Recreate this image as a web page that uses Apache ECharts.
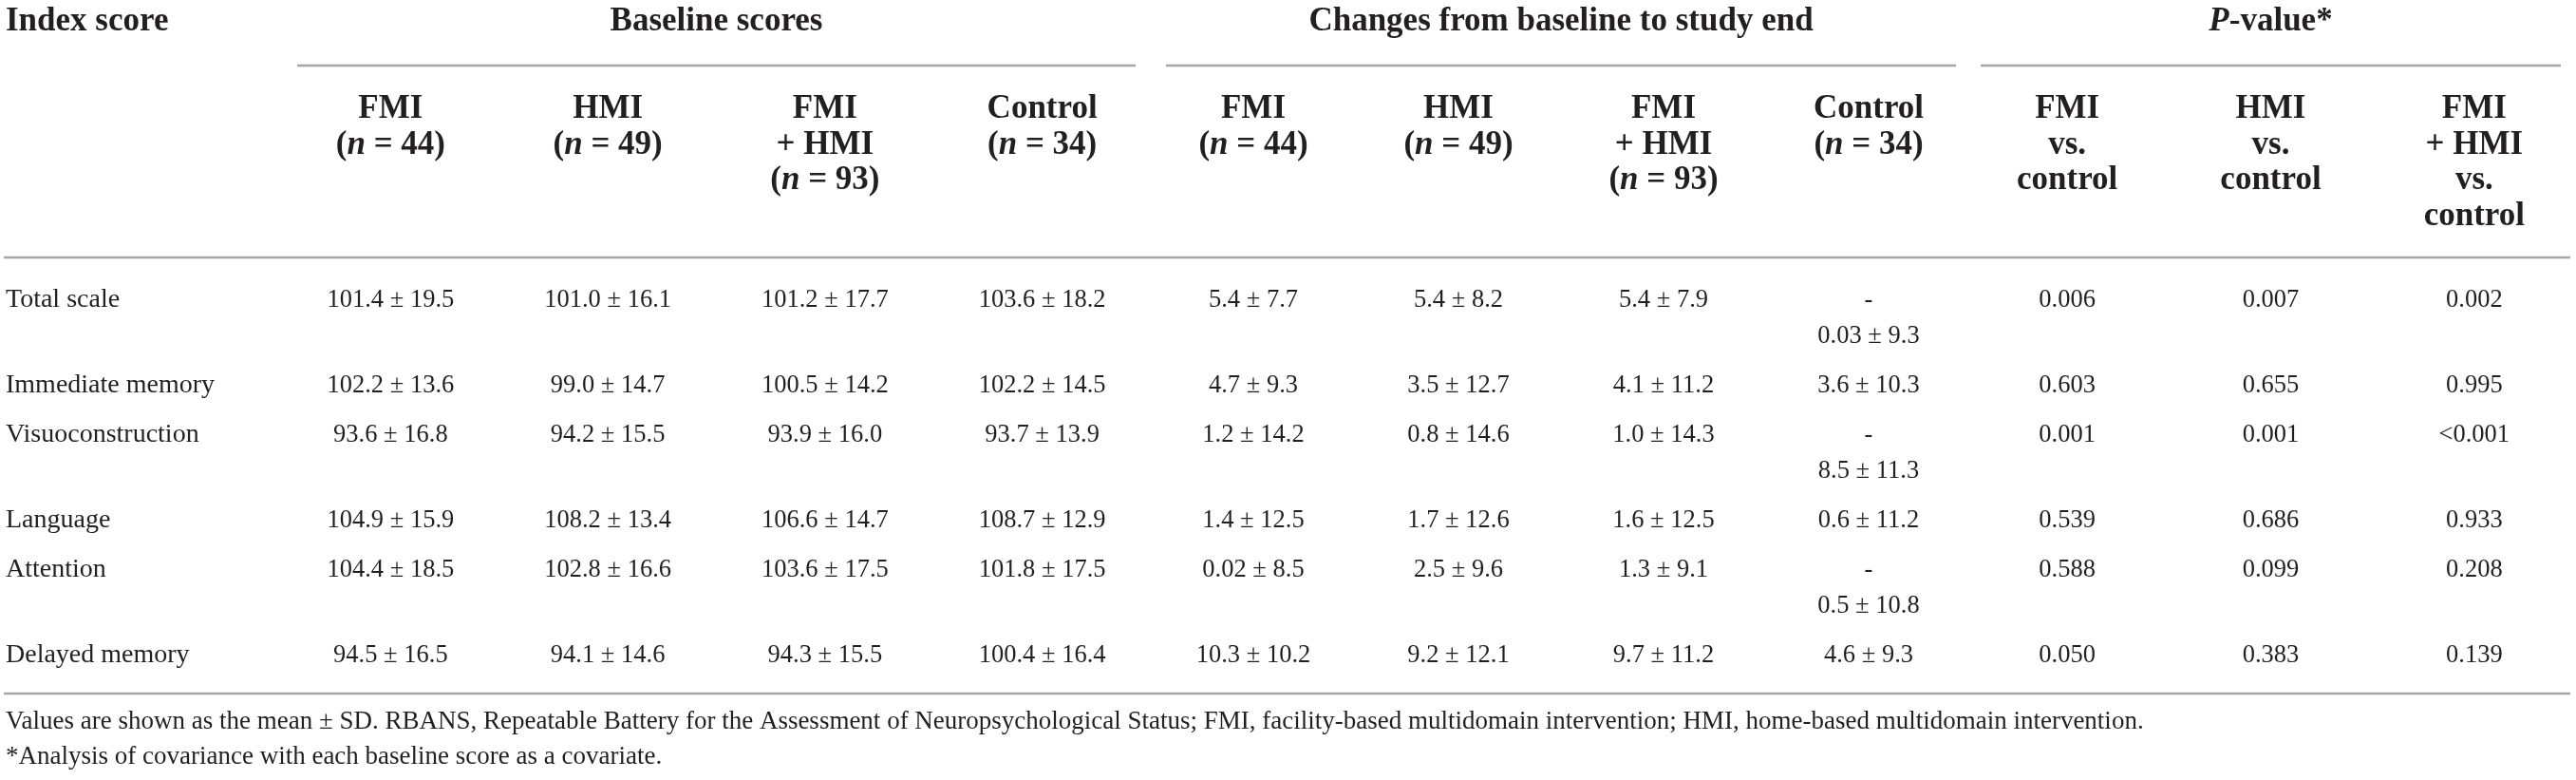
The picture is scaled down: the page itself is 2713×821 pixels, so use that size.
<!DOCTYPE html>
<html>
<head>
<meta charset="utf-8">
<script src="https://cdn.jsdelivr.net/npm/echarts@6/dist/echarts.min.js"></script>
<style>
  html, body { margin: 0; padding: 0; background: #fff; }
  #chart { width: 2713px; height: 821px; }
</style>
</head>
<body>
<div id="chart"></div>
<script>
// RBANS index scores table
const rowNames = ['Total scale', 'Immediate memory', 'Visuoconstruction', 'Language', 'Attention', 'Delayed memory'];
const groupTitles = ['Baseline scores', 'Changes from baseline to study end', 'P-value*'];
const armHeads = ['FMI\n(n = 44)', 'HMI\n(n = 49)', 'FMI\n+ HMI\n(n = 93)', 'Control\n(n = 34)'];
const pHeads = ['FMI\nvs.\ncontrol', 'HMI\nvs.\ncontrol', 'FMI\n+ HMI\nvs.\ncontrol'];

// baseline scores (mean ± SD)
const baseFMI = ['101.4 ± 19.5', '102.2 ± 13.6', '93.6 ± 16.8', '104.9 ± 15.9', '104.4 ± 18.5', '94.5 ± 16.5'];
const baseHMI = ['101.0 ± 16.1', '99.0 ± 14.7', '94.2 ± 15.5', '108.2 ± 13.4', '102.8 ± 16.6', '94.1 ± 14.6'];
const baseBoth = ['101.2 ± 17.7', '100.5 ± 14.2', '93.9 ± 16.0', '106.6 ± 14.7', '103.6 ± 17.5', '94.3 ± 15.5'];
const baseCtrl = ['103.6 ± 18.2', '102.2 ± 14.5', '93.7 ± 13.9', '108.7 ± 12.9', '101.8 ± 17.5', '100.4 ± 16.4'];

// changes from baseline to study end (mean ± SD)
const chgFMI = ['5.4 ± 7.7', '4.7 ± 9.3', '1.2 ± 14.2', '1.4 ± 12.5', '0.02 ± 8.5', '10.3 ± 10.2'];
const chgHMI = ['5.4 ± 8.2', '3.5 ± 12.7', '0.8 ± 14.6', '1.7 ± 12.6', '2.5 ± 9.6', '9.2 ± 12.1'];
const chgBoth = ['5.4 ± 7.9', '4.1 ± 11.2', '1.0 ± 14.3', '1.6 ± 12.5', '1.3 ± 9.1', '9.7 ± 11.2'];
const chgCtrl = ['-0.03 ± 9.3', '3.6 ± 10.3', '-8.5 ± 11.3', '0.6 ± 11.2', '-0.5 ± 10.8', '4.6 ± 9.3'];

// P-values
const pFMI = ['0.006', '0.603', '0.001', '0.539', '0.588', '0.050'];
const pHMI = ['0.007', '0.655', '0.001', '0.686', '0.099', '0.383'];
const pBoth = ['0.002', '0.995', '<0.001', '0.933', '0.208', '0.139'];

const footnotes = [
  'Values are shown as the mean ± SD. RBANS, Repeatable Battery for the Assessment of Neuropsychological Status; FMI, facility-based multidomain intervention; HMI, home-based multidomain intervention.',
  '*Analysis of covariance with each baseline score as a covariate.'
];

// layout / style
const FONT = '"Liberation Serif", "DejaVu Serif", serif';
const INK = '#231f20';
const RULE = '#a6a6a6';
const W = 2713, H = 821;
const HEAD_SIZE = 35, LABEL_SIZE = 28, NUM_SIZE = 26.5, NOTE_SIZE = 27;
const HEAD_LH = 37.7, BODY_LH = 38, ROW_GAP = 52;
const TITLE_Y = 23, GROUP_RULE_Y = 69, HEAD_Y = 115, HEAD_RULE_Y = 271;
const BODY_Y = 316, BOTTOM_RULE_Y = 730, NOTE_Y = [763, 800];

const groups = [
  { title: groupTitles[0], heads: armHeads, cols: [baseFMI, baseHMI, baseBoth, baseCtrl], left: 297, width: 915 },
  { title: groupTitles[1], heads: armHeads, cols: [chgFMI, chgHMI, chgBoth, chgCtrl], left: 1212, width: 864 },
  { title: groupTitles[2], heads: pHeads, cols: [pFMI, pHMI, pBoth], left: 2070, width: 675 }
];

// a leading minus wraps onto its own line, as in the printed table
function cellText(s) {
  return s.charAt(0) === '-' ? '-\n' + s.slice(1) : s;
}

const allCols = groups.reduce((a, g) => a.concat(g.cols), []);
const rowTops = [];
let yCursor = BODY_Y;
rowNames.forEach((_, r) => {
  rowTops.push(yCursor);
  const lines = Math.max.apply(null, allCols.map(c => cellText(c[r]).split('\n').length));
  yCursor += (lines - 1) * BODY_LH + ROW_GAP;
});

function headRich(s) {
  return s.replace('(n =', '({i|n} =').replace('P-', '{i|P}-');
}
const headStyle = {
  font: 'bold ' + HEAD_SIZE + 'px ' + FONT,
  fill: INK,
  lineHeight: HEAD_LH,
  rich: { i: { font: 'italic bold ' + HEAD_SIZE + 'px ' + FONT, fill: INK, lineHeight: HEAD_LH } }
};

const grids = [{ left: 0, top: 0, width: 290, height: H }];
const xAxes = [{ type: 'category', gridIndex: 0, data: ['Index score'], show: false }];
const yAxes = [{ type: 'value', gridIndex: 0, min: 0, max: H, inverse: true, show: false }];
const series = [];

// label column
series.push({
  type: 'custom',
  xAxisIndex: 0, yAxisIndex: 0,
  silent: true,
  data: [[0, TITLE_Y]].concat(rowTops.map(y => [0, y])),
  renderItem: function (params, api) {
    const p = api.coord([api.value(0), api.value(1)]);
    const band = api.size([1, 0])[0];
    const i = params.dataIndex;
    if (i === 0) {
      return { type: 'text', x: p[0] - band / 2 + 6, y: p[1],
        style: Object.assign({}, headStyle, { text: 'Index score', align: 'left', verticalAlign: 'middle' }) };
    }
    return { type: 'text', x: p[0] - band / 2 + 6, y: p[1] - BODY_LH / 2,
      style: { text: rowNames[i - 1], font: LABEL_SIZE + 'px ' + FONT, fill: INK, lineHeight: BODY_LH,
        align: 'left', verticalAlign: 'top' } };
  }
});

groups.forEach((g, gi) => {
  const idx = gi + 1;
  grids.push({ left: g.left, top: 0, width: g.width, height: H });
  xAxes.push({ type: 'category', gridIndex: idx, data: g.heads.map(h => h.replace(/\n/g, ' ')), show: false });
  yAxes.push({ type: 'value', gridIndex: idx, min: 0, max: H, inverse: true, show: false });

  // group title with its rule
  series.push({
    type: 'custom',
    xAxisIndex: idx, yAxisIndex: idx,
    silent: true,
    data: [[0, GROUP_RULE_Y]],
    renderItem: function (params, api) {
      const band = api.size([1, 0])[0];
      const a = api.coord([0, GROUP_RULE_Y]);
      const b = api.coord([g.heads.length - 1, GROUP_RULE_Y]);
      const x0 = a[0] - band / 2 + 16;
      const x1 = Math.min(b[0] + band / 2 - 16, W - 6);
      const ty = api.coord([0, TITLE_Y])[1];
      return {
        type: 'group',
        children: [
          { type: 'line', shape: { x1: x0, y1: a[1], x2: x1, y2: a[1] }, style: { stroke: RULE, lineWidth: 2.5 } },
          { type: 'text', x: (x0 + x1) / 2, y: ty,
            style: Object.assign({}, headStyle, { text: headRich(g.title), align: 'center', verticalAlign: 'middle' }) }
        ]
      };
    }
  });

  // column heads
  series.push({
    type: 'custom',
    xAxisIndex: idx, yAxisIndex: idx,
    silent: true,
    data: g.heads.map((h, c) => [c, HEAD_Y]),
    renderItem: function (params, api) {
      const p = api.coord([api.value(0), api.value(1)]);
      return { type: 'text', x: p[0], y: p[1] - HEAD_LH / 2,
        style: Object.assign({}, headStyle, { text: headRich(g.heads[params.dataIndex]), align: 'center', verticalAlign: 'top' }) };
    }
  });

  // body cells
  const cells = [];
  g.cols.forEach((col, c) => col.forEach((v, r) => cells.push({ c: c, r: r, text: cellText(v) })));
  series.push({
    type: 'custom',
    xAxisIndex: idx, yAxisIndex: idx,
    silent: true,
    data: cells.map(d => [d.c, rowTops[d.r]]),
    renderItem: function (params, api) {
      const p = api.coord([api.value(0), api.value(1)]);
      return { type: 'text', x: p[0], y: p[1] - BODY_LH / 2,
        style: { text: cells[params.dataIndex].text, font: NUM_SIZE + 'px ' + FONT, fill: INK,
          lineHeight: BODY_LH, align: 'center', verticalAlign: 'top' } };
    }
  });
});

const chart = echarts.init(document.getElementById('chart'), null, { renderer: 'canvas' });
const option = {
  backgroundColor: '#fff',
  animation: false,
  grid: grids,
  xAxis: xAxes,
  yAxis: yAxes,
  graphic: [
    { type: 'line', shape: { x1: 4, y1: HEAD_RULE_Y, x2: W - 6, y2: HEAD_RULE_Y }, style: { stroke: RULE, lineWidth: 2.5 } },
    { type: 'line', shape: { x1: 4, y1: BOTTOM_RULE_Y, x2: W - 6, y2: BOTTOM_RULE_Y }, style: { stroke: RULE, lineWidth: 2.5 } }
  ].concat(footnotes.map((t, i) => ({
    type: 'text', left: 6, top: NOTE_Y[i] - NOTE_SIZE * 0.6,
    style: { text: t, font: NOTE_SIZE + 'px ' + FONT, fill: INK }
  }))),
  series: series
};
chart.setOption(option, true);
</script>
</body>
</html>
